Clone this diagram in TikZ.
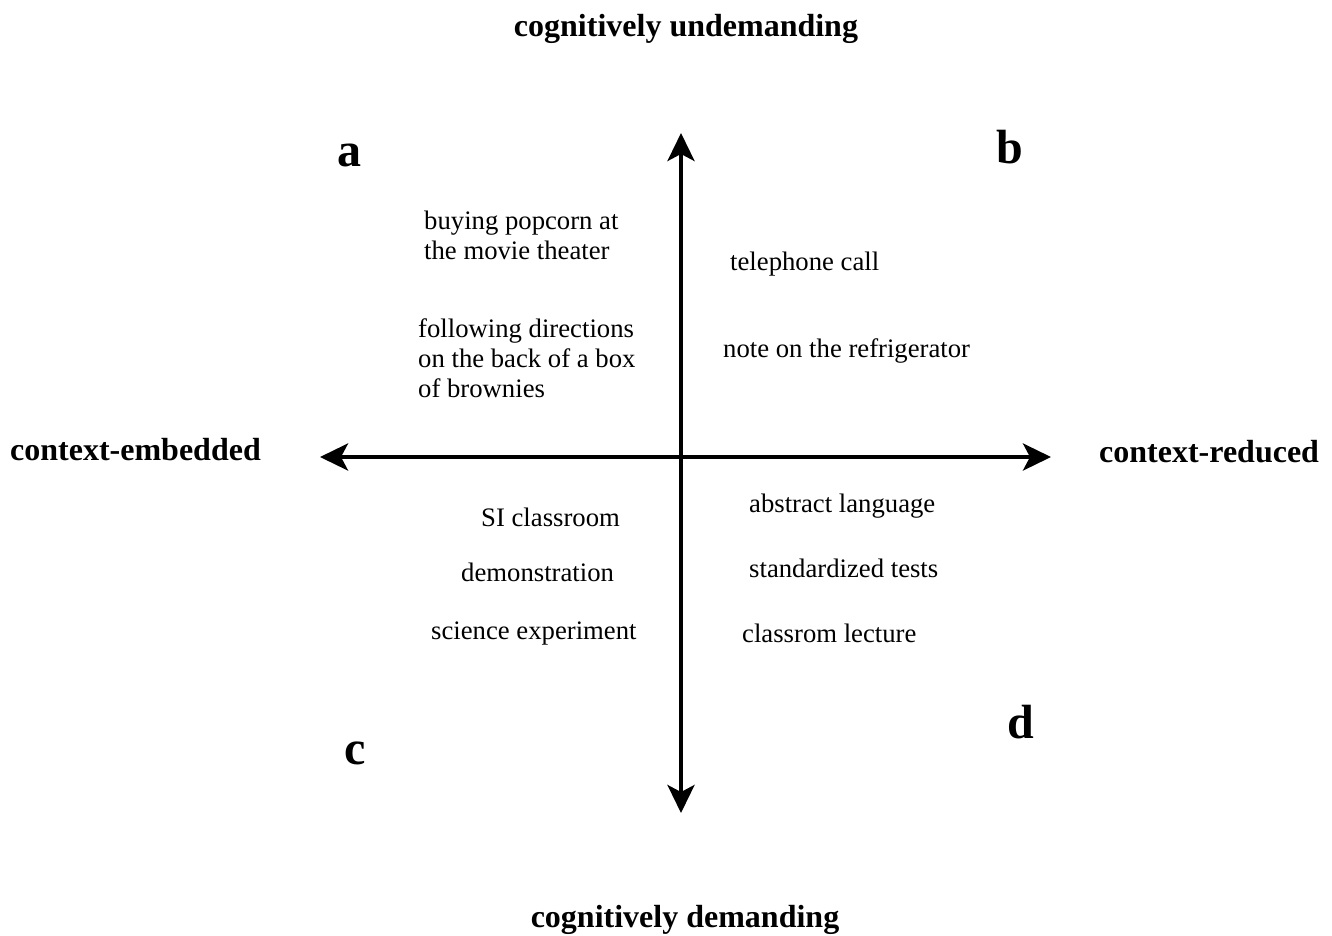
\documentclass[tikz,border=0pt]{standalone}
\usepackage{fontspec}
\setmainfont{Liberation Serif}
\usetikzlibrary{arrows.meta}
\begin{document}
\begin{tikzpicture}[x=1pt,y=-1pt,
  axis/.style={line width=4pt,{Stealth[length=28pt,width=27pt,inset=7pt]}-{Stealth[length=28pt,width=27pt,inset=7pt]}},
  item/.style={anchor=base west,inner sep=0pt,align=left,font=\fontsize{26.7}{30}\selectfont},
  pole/.style={anchor=base,inner sep=0pt,font=\fontsize{32}{36}\selectfont\bfseries},
  quad/.style={anchor=base west,inner sep=0pt,font=\fontsize{48}{52}\selectfont\bfseries}]
\useasboundingbox (0,0) rectangle (1332,935);
\coordinate (top) at (681,133);
\coordinate (bot) at (681,813);
\coordinate (lft) at (320,457);
\coordinate (rgt) at (1051,457);
\draw[axis] (bot) -- (top);
\draw[axis] (lft) -- (rgt);
\node[pole] (undem) at (686,36) {cognitively undemanding};
\node[pole] (dem) at (685,927) {cognitively demanding};
\node[pole,anchor=base west] (emb) at (10,460) {context-embedded};
\node[pole,anchor=base west] (red) at (1099,462) {context-reduced};
\node[quad] (qa) at (337,166) {a};
\node[quad] (qb) at (996,163) {b};
\node[quad] (qc) at (344,764) {c};
\node[quad] (qd) at (1007,738) {d};
\node[item] (pop) at (424,259) {buying popcorn at\\the movie theater};
\node[item] (brow) at (418,397) {following directions\\on the back of a box\\of brownies};
\node[item] (tel) at (730,270) {telephone call};
\node[item] (note) at (723,357) {note on the refrigerator};
\node[item] (si) at (481,526) {SI classroom};
\node[item] (demo) at (461,581) {demonstration};
\node[item] (sci) at (431,639) {science experiment};
\node[item] (abs) at (749,512) {abstract language};
\node[item] (std) at (749,577) {standardized tests};
\node[item] (lec) at (742,642) {classrom lecture};
\end{tikzpicture}
\end{document}
